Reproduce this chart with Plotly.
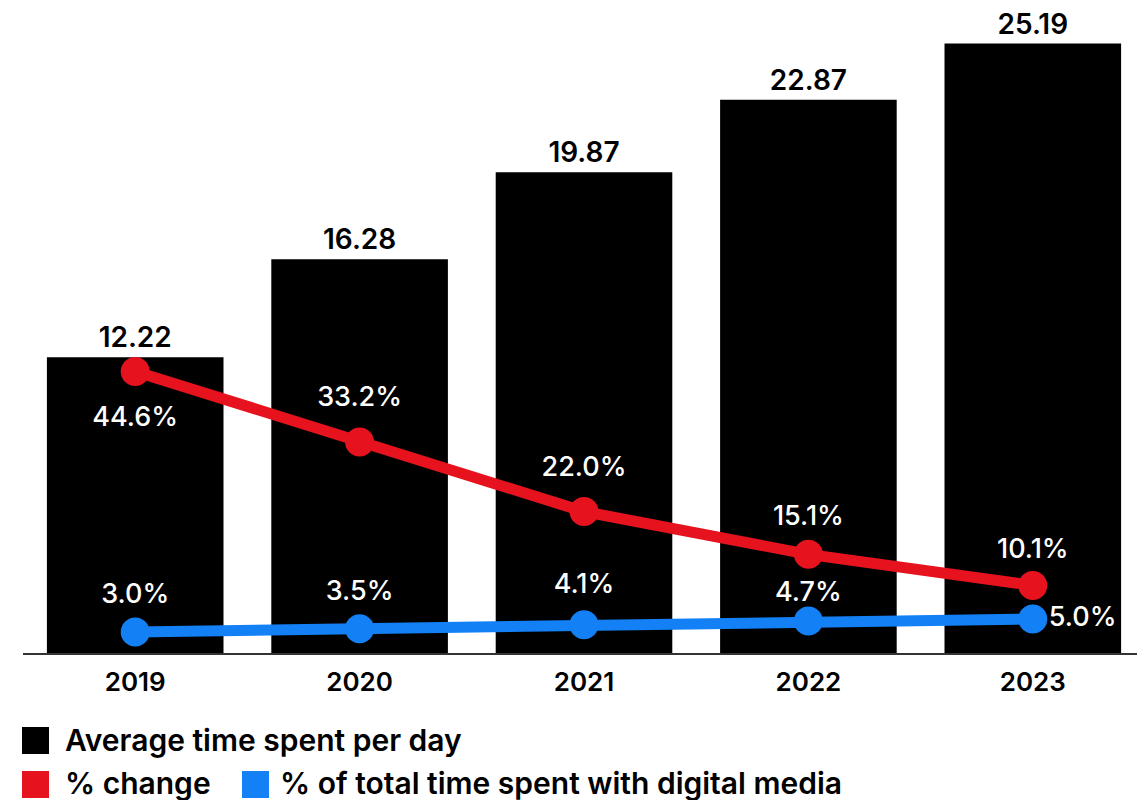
import plotly.graph_objects as go

years = ["2019", "2020", "2021", "2022", "2023"]
avg_time = [12.22, 16.28, 19.87, 22.87, 25.19]
pct_change = [44.6, 33.2, 22.0, 15.1, 10.1]
pct_total = [3.0, 3.5, 4.1, 4.7, 5.0]

legend_labels = ["Average time spent per day", "% change", "% of total time spent with digital media"]

BLACK = "#000000"
RED = "#E6131E"
BLUE = "#1380F5"
FONT = "Inter"

fig = go.Figure()

fig.add_trace(go.Bar(
    x=years, y=avg_time, marker=dict(color=BLACK, line=dict(width=0)),
    texttemplate="%{y:.2f}", textposition="outside",
    textfont=dict(family=FONT, size=28, color="#000", weight=600),
    cliponaxis=False, showlegend=False, name=legend_labels[0],
))

fig.add_trace(go.Scatter(
    x=years, y=pct_change, yaxis="y2", mode="lines+markers",
    line=dict(color=RED, width=11), marker=dict(color=RED, size=29, line=dict(width=0)),
    cliponaxis=False, showlegend=False, name=legend_labels[1],
))

fig.add_trace(go.Scatter(
    x=years, y=pct_total, yaxis="y3", mode="lines+markers",
    line=dict(color=BLUE, width=11), marker=dict(color=BLUE, size=29, line=dict(width=0)),
    cliponaxis=False, showlegend=False, name=legend_labels[2],
))

# Value labels (white) as text traces; invisible marker size sets the text offset
label_font = dict(family=FONT, size=27, color="white", weight=500)
fig.add_trace(go.Scatter(
    x=years, y=pct_change, yaxis="y2", mode="markers+text",
    text=[f"{v:.1f}%" for v in pct_change],
    textposition=["bottom center", "top center", "top center", "top center", "top center"],
    marker=dict(color="rgba(0,0,0,0)", size=[54, 45, 45, 34, 31],
                line=dict(width=0, color="rgba(0,0,0,0)")),
    textfont=label_font, cliponaxis=False, showlegend=False, hoverinfo="skip",
))
fig.add_trace(go.Scatter(
    x=years, y=pct_total, yaxis="y3", mode="markers+text",
    text=[f"{v:.1f}%" for v in pct_total],
    textposition=["top center", "top center", "top center", "top center", "middle right"],
    marker=dict(color="rgba(0,0,0,0)", size=[34, 34, 39, 20, 24],
                line=dict(width=0, color="rgba(0,0,0,0)")),
    textfont=label_font, cliponaxis=False, showlegend=False, hoverinfo="skip",
))

# Page offset (body margin) compensation and plot-area pixel geometry (viewport coords)
OFF = 8
PL, PR, PT, PB = 23, 1145, 24, 653
W, H = 1145 - OFF, 800 - OFF


def px(x):
    return (x - PL) / (PR - PL)


def py(y):
    return (PB - y) / (PB - PT)


shapes = []
annotations = []
leg_items = [
    (22, 727, BLACK, legend_labels[0], 63, 740),
    (22, 771, RED, legend_labels[1], 63, 783),
    (242, 771, BLUE, legend_labels[2], 278, 783),
]
for sx, sy, col, lab, tx, ty in leg_items:
    shapes.append(dict(type="rect", xref="paper", yref="paper",
                       x0=px(sx), x1=px(sx + 27), y0=py(sy + 27), y1=py(sy),
                       fillcolor=col, line=dict(width=0)))
    annotations.append(dict(
        x=px(tx), y=py(ty), xref="paper", yref="paper", text=lab, showarrow=False,
        xanchor="left", yanchor="middle",
        font=dict(family=FONT, size=30, color="#000", weight=600),
    ))

hidden = dict(showticklabels=False, showline=False, showgrid=False,
              zeroline=False, ticks="")

fig.update_layout(
    width=W, height=H,
    margin=dict(l=PL - OFF, r=0, t=PT - OFF, b=H - (PB - OFF)),
    paper_bgcolor="white", plot_bgcolor="white",
    bargap=0.213,
    xaxis=dict(type="category", showline=True, linecolor="#333", linewidth=2, ticks="",
               showgrid=False, zeroline=False, range=[-0.5, 4.5], ticklabelstandoff=5,
               tickfont=dict(family=FONT, size=26, color="#000", weight=600)),
    yaxis=dict(range=[0, 26], **hidden),
    yaxis2=dict(range=[-0.8, 100.6], overlaying="y", **hidden),
    yaxis3=dict(range=[-0.23, 96.5], overlaying="y", **hidden),
    annotations=annotations,
    shapes=shapes,
    showlegend=False,
)

fig.write_html("out.html")
